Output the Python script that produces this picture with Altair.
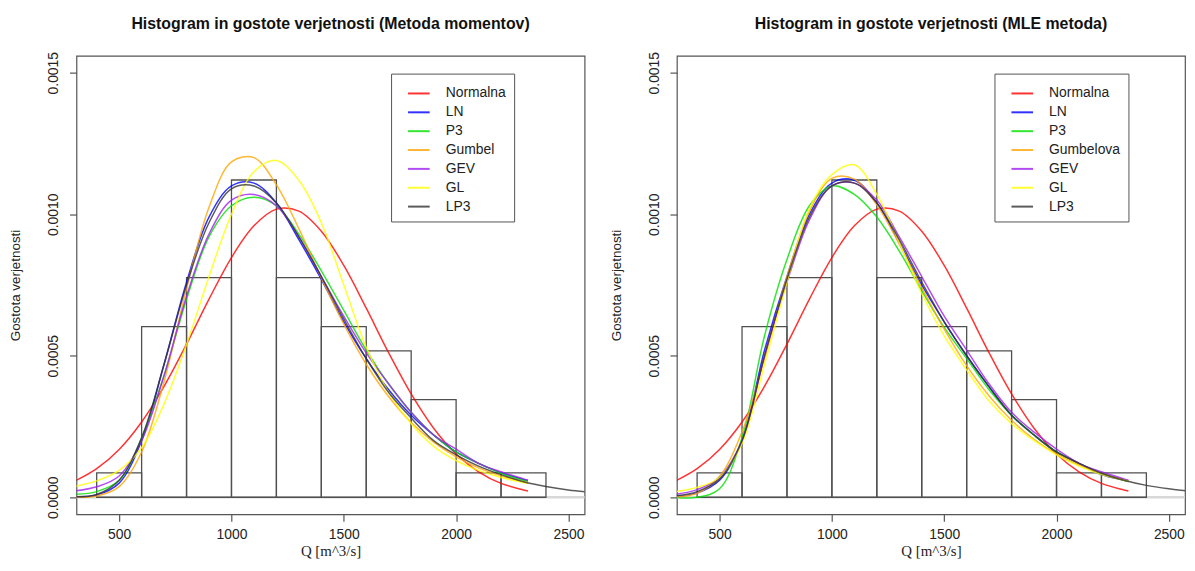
import altair as alt
import pandas as pd

# Histogram (density scale), identical in both panels
bin_lo = [400, 600, 800, 1000, 1200, 1400, 1600, 1800, 2000, 2200]
bin_hi = [600, 800, 1000, 1200, 1400, 1600, 1800, 2000, 2200, 2400]
bin_density = [0.0000862, 0.000603, 0.000776, 0.001121, 0.000776,
               0.000603, 0.000517, 0.000345, 0.0000862, 0.0000862]

# x positions where curve values were read
x_grid = [300, 400, 500, 600, 700, 800, 900, 1000, 1100, 1200, 1300, 1400,
          1500, 1600, 1700, 1800, 1900, 2000, 2100, 2200, 2300, 2320]
x_grid_lp3 = [300, 400, 500, 600, 700, 800, 900, 1000, 1100, 1200, 1300, 1400,
              1500, 1600, 1700, 1800, 1900, 2000, 2100, 2200, 2300, 2400, 2500, 2600]

# Panel 1: Metoda momentov
norm_mom = [0.000056, 0.000101, 0.000169, 0.000266, 0.000392, 0.000541, 0.000700, 0.000847,
            0.000959, 0.001018, 0.001011, 0.000940, 0.000819, 0.000668, 0.000510, 0.000365,
            0.000244, 0.000153, 0.000090, 0.000049, 0.000026, 0.000022]
ln_mom = [0.000001, 0.000008, 0.00005, 0.0002, 0.00047, 0.00076, 0.00099, 0.00110, 0.00111,
          0.00104, 0.00091, 0.00077, 0.00062, 0.00049, 0.00038, 0.00029, 0.00022, 0.00016,
          0.00012, 0.000087, 0.000063, 0.000059]
p3_mom = [0.00001, 0.00002, 0.00006, 0.00021, 0.00043, 0.0007, 0.00092, 0.00103, 0.00106,
          0.00103, 0.00093, 0.00080, 0.00066, 0.00052, 0.0004, 0.0003, 0.00022, 0.00016,
          0.00012, 0.000085, 0.00006, 0.000056]
gumbel_mom = [0.0000002, 0.0000045, 0.0000377, 0.00016, 0.000409, 0.000737, 0.001025, 0.001185,
              0.0012, 0.001104, 0.000949, 0.000775, 0.000612, 0.00047, 0.000355, 0.000264,
              0.000195, 0.000143, 0.000104, 0.0000756, 0.0000547, 0.000051]
gev_mom = [0.000022, 0.000037, 0.000075, 0.0002, 0.00043, 0.00071, 0.00093, 0.00105, 0.00107,
           0.00103, 0.00092, 0.00078, 0.00064, 0.00051, 0.0004, 0.0003, 0.00022, 0.00017,
           0.00012, 0.00009, 0.000065, 0.00006]
gl_mom = [0.000038, 0.000058, 0.000095, 0.000175, 0.00033, 0.00054, 0.00078, 0.00100, 0.00115,
          0.00119, 0.00112, 0.00097, 0.00075, 0.00053, 0.00037, 0.00026, 0.00018, 0.00013,
          0.000095, 0.00007, 0.000052, 0.000049]
lp3_mom = [0.000002, 0.00001, 0.00006, 0.00021, 0.00047, 0.00075, 0.00097, 0.00109, 0.00110,
           0.00104, 0.00092, 0.00078, 0.00063, 0.00049, 0.00037, 0.00028, 0.0002, 0.00015,
           0.00011, 0.00008, 0.000055, 0.000038, 0.000026, 0.000018]

# Panel 2: MLE metoda
norm_mle = [0.000056, 0.000101, 0.000169, 0.000266, 0.000392, 0.000541, 0.000700, 0.000847,
            0.000959, 0.001018, 0.001011, 0.000940, 0.000819, 0.000668, 0.000510, 0.000365,
            0.000244, 0.000153, 0.000090, 0.000049, 0.000026, 0.000022]
ln_mle = [0.000003, 0.000015, 0.00006, 0.0002, 0.00052, 0.00078, 0.00100, 0.00111, 0.00112,
          0.00104, 0.00090, 0.00075, 0.00062, 0.0005, 0.00039, 0.00029, 0.00022, 0.00016,
          0.00012, 0.00008, 0.00006, 0.000056]
p3_mle = [0.0, 0.0, 0.00003, 0.00021, 0.00057, 0.00084, 0.00103, 0.0011, 0.00107, 0.00099,
          0.00087, 0.00073, 0.0006, 0.00049, 0.00038, 0.00029, 0.00022, 0.00016, 0.00012,
          0.000085, 0.00006, 0.000056]
gumbel_mle = [0.0000013, 0.0000141, 0.0000742, 0.000231, 0.000488, 0.000779, 0.001011, 0.001127,
              0.001124, 0.001033, 0.000894, 0.000741, 0.000594, 0.000465, 0.000358, 0.000272,
              0.000205, 0.000153, 0.000114, 0.0000845, 0.0000625, 0.000059]
gev_mle = [0.00001, 0.000027, 0.00007, 0.0002, 0.0005, 0.00076, 0.00098, 0.0011, 0.00111,
           0.00105, 0.00092, 0.00078, 0.00064, 0.00052, 0.0004, 0.0003, 0.00023, 0.00017,
           0.00012, 0.00009, 0.000065, 0.00006]
gl_mle = [0.00002, 0.000035, 0.00007, 0.00019, 0.00047, 0.00076, 0.00102, 0.00114, 0.001175,
          0.00107, 0.0009, 0.00072, 0.00057, 0.00045, 0.00034, 0.00026, 0.0002, 0.00015,
          0.00011, 0.00008, 0.00006, 0.000057]
lp3_mle = [0.000005, 0.00002, 0.000065, 0.0002, 0.0005, 0.00077, 0.00099, 0.0011, 0.00111,
           0.00104, 0.00091, 0.00076, 0.00062, 0.0005, 0.00039, 0.00029, 0.00022, 0.00016,
           0.00012, 0.000085, 0.00006, 0.000042, 0.00003, 0.000021]

names_mom = ["Normalna", "LN", "P3", "Gumbel", "GEV", "GL", "LP3"]
names_mle = ["Normalna", "LN", "P3", "Gumbelova", "GEV", "GL", "LP3"]
colors = ["#FF0000", "#0000FF", "#00E000", "#FFA500", "#A020F0", "#FFFF00", "#333333"]

x_ticks = [500, 1000, 1500, 2000, 2500]
y_ticks = [0, 0.0005, 0.001, 0.0015]

hist_df = pd.DataFrame({"lo": bin_lo, "hi": bin_hi, "dens": bin_density})
zero_df = pd.DataFrame({"z": [0.0]})


def curves_df(names, series):
    rows = []
    for k, (name, vals) in enumerate(zip(names, series)):
        xs = x_grid_lp3 if name == "LP3" else x_grid
        for x, d in zip(xs, vals):
            rows.append({"Q": x, "d": d, "dist": name, "k": k})
    return pd.DataFrame(rows)


def panel(title, names, series, lx, ly):
    xs = alt.Scale(domain=[310, 2572], nice=False, zero=False)
    ys = alt.Scale(domain=[-0.00006, 0.00156], nice=False, zero=False)
    zero = alt.Chart(zero_df).mark_rule(color="#d8d8d8", strokeWidth=2.5).encode(
        y=alt.Y("z:Q", scale=ys)
    )
    hist = alt.Chart(hist_df).mark_rect(
        fill="white", fillOpacity=0, stroke="#505050", strokeWidth=1.3
    ).encode(
        x=alt.X("lo:Q", scale=xs,
                axis=alt.Axis(values=x_ticks, format="d", title="Q [m^3/s]")),
        x2="hi:Q",
        y=alt.Y("dens:Q", scale=ys,
                axis=alt.Axis(values=y_ticks, format=".4f", title="Gostota verjetnosti")),
        y2=alt.datum(0),
    )
    lines = alt.Chart(curves_df(names, series)).mark_line(
        interpolate="catmull-rom", strokeWidth=1.5, opacity=0.8, clip=True
    ).encode(
        x=alt.X("Q:Q", scale=xs),
        y=alt.Y("d:Q", scale=ys),
        color=alt.Color(
            "dist:N",
            scale=alt.Scale(domain=names, range=colors),
            legend=alt.Legend(
                title=None, orient="none", legendX=lx, legendY=ly,
                symbolType="stroke", symbolSize=475, symbolStrokeWidth=2,
                symbolOpacity=0.8, labelFontSize=14, labelFont="Liberation Sans",
                labelColor="#222222", labelOffset=15, padding=8, rowPadding=0,
                strokeColor="#555555", fillColor="white", symbolOffset=8,
            ),
        ),
    )
    return alt.layer(zero, hist, lines).properties(
        width=512, height=462,
        title=alt.TitleParams(title, anchor="middle"),
    )


left = panel("Histogram in gostote verjetnosti (Metoda momentov)", names_mom,
             [norm_mom, ln_mom, p3_mom, gumbel_mom, gev_mom, gl_mom, lp3_mom], 317, 18)
right = panel("Histogram in gostote verjetnosti (MLE metoda)", names_mle,
              [norm_mle, ln_mle, p3_mle, gumbel_mle, gev_mle, gl_mle, lp3_mle], 320, 18)

chart = alt.hconcat(left, right, spacing=22).resolve_scale(
    color="independent", x="independent", y="independent"
).resolve_legend(color="independent").properties(
    padding={"left": 0, "top": 5, "right": 0, "bottom": 0}
).configure_view(
    stroke="#555555", strokeWidth=1.2
).configure_axis(
    domain=False, grid=False, tickColor="#555555", tickSize=7, tickWidth=1.2,
    labelFont="Liberation Sans", labelFontSize=14, labelColor="#222222",
    titleColor="#222222", titleFontWeight="normal",
).configure_axisY(
    labelAngle=270, labelAlign="center", labelBaseline="bottom", labelPadding=9,
    titleFont="Liberation Sans", titleFontSize=13.5, titlePadding=24,
).configure_axisX(
    labelPadding=6, titleFont="Liberation Serif", titleFontSize=15, titlePadding=3,
).configure_title(
    font="Liberation Sans", fontSize=16, fontWeight="bold", color="#111111", offset=20,
)

chart.save("out.html", embed_options={"renderer": "svg", "actions": False})
